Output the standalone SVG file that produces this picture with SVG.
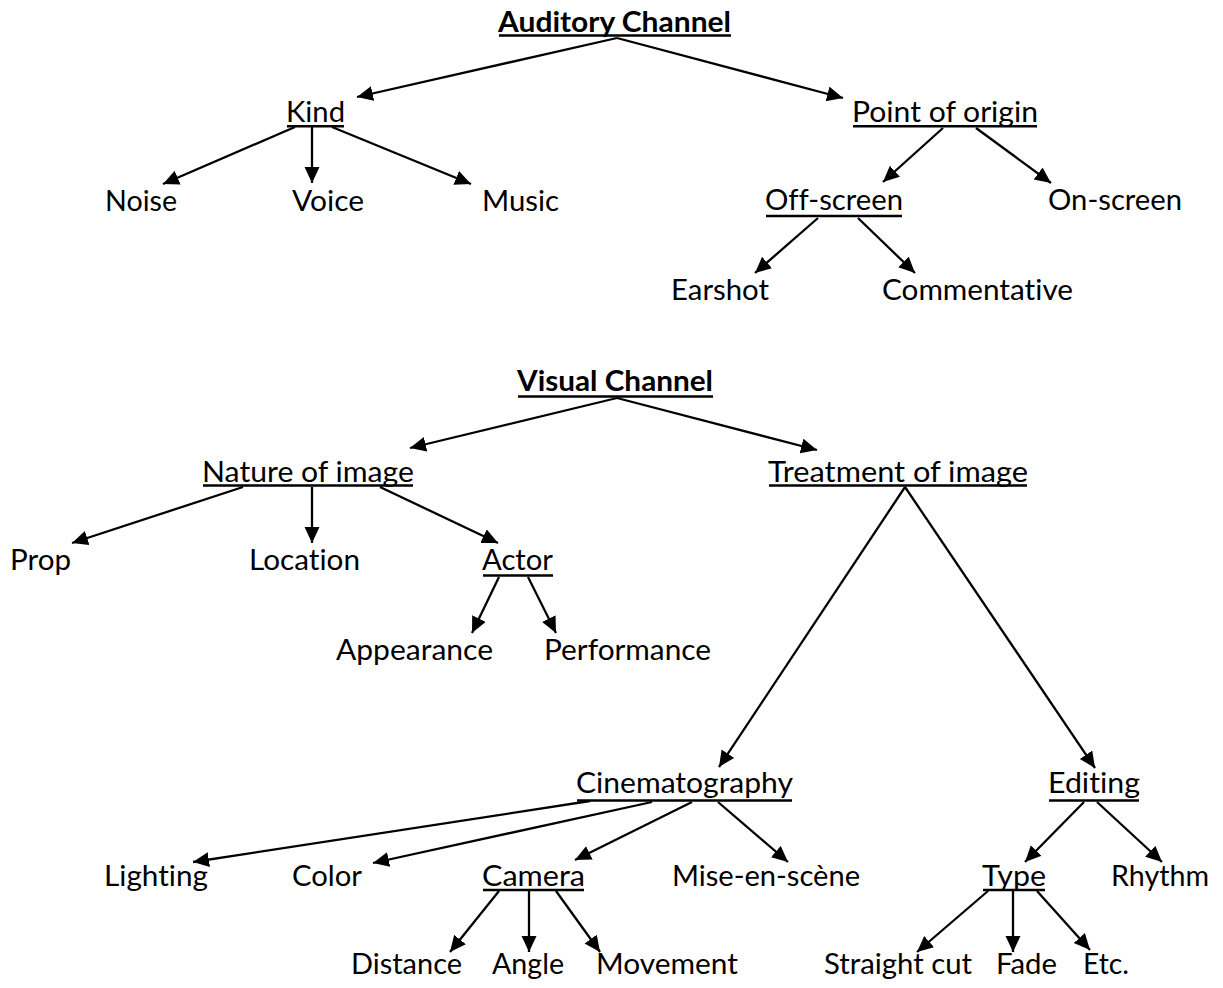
<svg xmlns="http://www.w3.org/2000/svg" width="1223" height="988" viewBox="0 0 1223 988">
<style>
text{font-family:Lato,"Noto Sans",sans-serif;font-size:29px;fill:#000;text-anchor:middle;font-variant-ligatures:none}
.b{font-weight:bold}
.ul{stroke:#000;stroke-width:2.6}
.c line{stroke:#000;stroke-width:2.3;marker-end:url(#ah)}
</style>
<defs>
<marker id="ah" markerUnits="userSpaceOnUse" markerWidth="17" markerHeight="16" refX="16" refY="7.5" orient="auto">
<path d="M0,0 L16,7.5 L0,15 z" fill="#000"/>
</marker>
</defs>
<rect width="1223" height="988" fill="#fff"/>
<g class="c" id="connectors">
<line x1="617" y1="38" x2="357" y2="97"/>
<line x1="617" y1="38" x2="843" y2="98"/>
<line x1="295" y1="127" x2="163" y2="184"/>
<line x1="312" y1="127" x2="312" y2="183"/>
<line x1="332" y1="127" x2="471" y2="184"/>
<line x1="943" y1="128" x2="883" y2="182"/>
<line x1="976" y1="128" x2="1051" y2="183"/>
<line x1="818" y1="218" x2="755" y2="273"/>
<line x1="858" y1="218" x2="915" y2="273"/>
<line x1="617" y1="398" x2="410" y2="448"/>
<line x1="617" y1="398" x2="817" y2="450"/>
<line x1="243" y1="487" x2="72" y2="543"/>
<line x1="312" y1="487" x2="312" y2="543"/>
<line x1="380" y1="487" x2="498" y2="543"/>
<line x1="499" y1="577" x2="472" y2="633"/>
<line x1="528" y1="577" x2="556" y2="633"/>
<line x1="905" y1="487" x2="719" y2="767"/>
<line x1="905" y1="487" x2="1095" y2="768"/>
<line x1="590" y1="801" x2="193" y2="862"/>
<line x1="652" y1="802" x2="373" y2="863"/>
<line x1="692" y1="802" x2="575" y2="860"/>
<line x1="718" y1="802" x2="788" y2="862"/>
<line x1="1084" y1="802" x2="1025" y2="862"/>
<line x1="1097" y1="802" x2="1162" y2="862"/>
<line x1="499" y1="891" x2="450" y2="952"/>
<line x1="529" y1="891" x2="529" y2="952"/>
<line x1="556" y1="891" x2="600" y2="952"/>
<line x1="988" y1="891" x2="917" y2="952"/>
<line x1="1013" y1="891" x2="1013" y2="952"/>
<line x1="1037" y1="891" x2="1090" y2="950"/>
</g>
<g id="auditory"><text class="b" x="614.5" y="32" textLength="233" lengthAdjust="spacingAndGlyphs">Auditory Channel</text><line class="ul" x1="499" y1="35.5" x2="731" y2="35.5"/></g>
<g id="kind"><text x="315.5" y="122" textLength="59" lengthAdjust="spacingAndGlyphs">Kind</text><line class="ul" x1="287" y1="126.3" x2="344" y2="126.3"/></g>
<g id="origin"><text x="945" y="122" textLength="186" lengthAdjust="spacingAndGlyphs">Point of origin</text><line class="ul" x1="853" y1="126.3" x2="1037" y2="126.3"/></g>
<g id="noise"><text x="141" y="211" textLength="72" lengthAdjust="spacingAndGlyphs">Noise</text></g>
<g id="voice"><text x="328" y="211" textLength="72" lengthAdjust="spacingAndGlyphs">Voice</text></g>
<g id="music"><text x="520.5" y="211" textLength="77" lengthAdjust="spacingAndGlyphs">Music</text></g>
<g id="offscreen"><text x="834" y="210" textLength="138" lengthAdjust="spacingAndGlyphs">Off-screen</text><line class="ul" x1="766" y1="216" x2="902" y2="216"/></g>
<g id="onscreen"><text x="1115" y="210" textLength="134" lengthAdjust="spacingAndGlyphs">On-screen</text></g>
<g id="earshot"><text x="720" y="300" textLength="98" lengthAdjust="spacingAndGlyphs">Earshot</text></g>
<g id="commentative"><text x="977.5" y="300" textLength="191" lengthAdjust="spacingAndGlyphs">Commentative</text></g>
<g id="visual"><text class="b" x="615" y="391" textLength="196" lengthAdjust="spacingAndGlyphs">Visual Channel</text><line class="ul" x1="518" y1="396.5" x2="713" y2="396.5"/></g>
<g id="nature"><text x="308" y="482" textLength="212" lengthAdjust="spacingAndGlyphs">Nature of image</text><line class="ul" x1="203" y1="485.5" x2="413" y2="485.5"/></g>
<g id="treatment"><text x="898" y="482" textLength="260" lengthAdjust="spacingAndGlyphs">Treatment of image</text><line class="ul" x1="769" y1="485.5" x2="1027" y2="485.5"/></g>
<g id="prop"><text x="40.5" y="570" textLength="61" lengthAdjust="spacingAndGlyphs">Prop</text></g>
<g id="location"><text x="304.5" y="570" textLength="111" lengthAdjust="spacingAndGlyphs">Location</text></g>
<g id="actor"><text x="517.5" y="570" textLength="71" lengthAdjust="spacingAndGlyphs">Actor</text><line class="ul" x1="483" y1="575.5" x2="553" y2="575.5"/></g>
<g id="appearance"><text x="414.5" y="660" textLength="157" lengthAdjust="spacingAndGlyphs">Appearance</text></g>
<g id="performance"><text x="627.5" y="660" textLength="167" lengthAdjust="spacingAndGlyphs">Performance</text></g>
<g id="cinematography"><text x="684.5" y="793" textLength="217" lengthAdjust="spacingAndGlyphs">Cinematography</text><line class="ul" x1="577" y1="800.5" x2="792" y2="800.5"/></g>
<g id="editing"><text x="1094" y="793" textLength="92" lengthAdjust="spacingAndGlyphs">Editing</text><line class="ul" x1="1049" y1="800.5" x2="1139" y2="800.5"/></g>
<g id="lighting"><text x="156" y="886" textLength="104" lengthAdjust="spacingAndGlyphs">Lighting</text></g>
<g id="color"><text x="327" y="886" textLength="70" lengthAdjust="spacingAndGlyphs">Color</text></g>
<g id="camera"><text x="533.5" y="886" textLength="103" lengthAdjust="spacingAndGlyphs">Camera</text><line class="ul" x1="483" y1="890" x2="584" y2="890"/></g>
<g id="miseenscene"><text x="766" y="886" textLength="188" lengthAdjust="spacingAndGlyphs">Mise-en-scène</text></g>
<g id="type"><text x="1014" y="886" textLength="64" lengthAdjust="spacingAndGlyphs">Type</text><line class="ul" x1="983" y1="890" x2="1045" y2="890"/></g>
<g id="rhythm"><text x="1160" y="886" textLength="98" lengthAdjust="spacingAndGlyphs">Rhythm</text></g>
<g id="distance"><text x="406.5" y="974" textLength="111" lengthAdjust="spacingAndGlyphs">Distance</text></g>
<g id="angle"><text x="528" y="974" textLength="72" lengthAdjust="spacingAndGlyphs">Angle</text></g>
<g id="movement"><text x="667" y="974" textLength="142" lengthAdjust="spacingAndGlyphs">Movement</text></g>
<g id="straightcut"><text x="898" y="974" textLength="148" lengthAdjust="spacingAndGlyphs">Straight cut</text></g>
<g id="fade"><text x="1026.5" y="974" textLength="61" lengthAdjust="spacingAndGlyphs">Fade</text></g>
<g id="etc"><text x="1106" y="974" textLength="46" lengthAdjust="spacingAndGlyphs">Etc.</text></g>
</svg>
